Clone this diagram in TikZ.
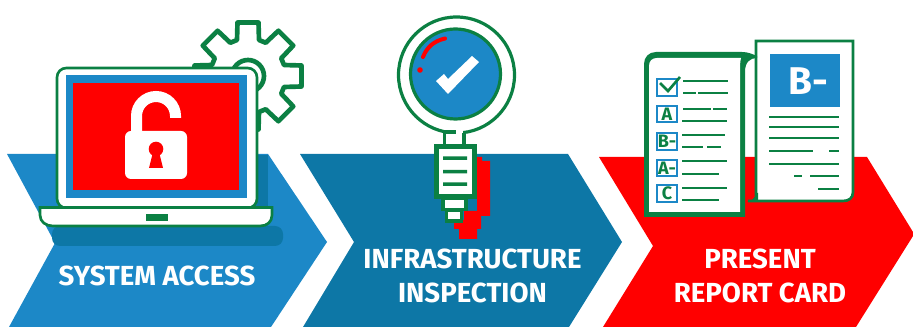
\documentclass[tikz,border=0pt]{standalone}
\usepackage{fontspec}
\setmainfont{Fira Sans}
\definecolor{gr}{HTML}{0B8043}
\definecolor{bl}{HTML}{1C88C7}
\definecolor{dbl}{HTML}{0D77A6}
\definecolor{rd}{HTML}{FF0000}
\tikzset{
 lbl/.style={font=\fontsize{20.7}{25.5}\selectfont\bfseries,text=white,align=center},
 gl/.style={draw=gr,line width=2pt},
 ln/.style={draw=gr,line width=2pt},
 gradebox/.style={draw=bl,line width=1.6pt,fill=white,minimum width=15pt,minimum height=12.5pt,inner sep=0pt},
 gradetxt/.style={font=\fontsize{13.5}{13.5}\selectfont\bfseries,text=gr,inner sep=0pt},
}
\begin{document}
\begin{tikzpicture}[x=0.75pt,y=-0.75pt]
\useasboundingbox (0,0) rectangle (913,327);
% chevrons
\fill[bl] (7,154) -- (268,154) -- (327,242) -- (271,327) -- (9,327) -- (55,243) -- cycle;
\fill[dbl] (300,154) -- (568,154) -- (622,242) -- (569,327) -- (303,327) -- (354,242) -- cycle;
\fill[rd] (599,157) -- (867,157) -- (913,232) -- (913,236) -- (856,327) -- (603,327) -- (653,246) -- cycle;
% text
\node[lbl] (t1) at (157,276) {SYSTEM ACCESS};
\node[lbl] (t2) at (472.5,275.5) {INFRASTRUCTURE\\INSPECTION};
\node[lbl] (t3) at (760,276) {PRESENT\\REPORT CARD};
% gear
\begin{scope}[shift={(248,76)}]
\draw[gr,line width=3.5pt,fill=white,line join=round]
 (-11,-36)
 \foreach \a in {0,-45,...,-315} {
  -- ([rotate=\a]-11,-36) -- ([rotate=\a]-10.5,-53.5) -- ([rotate=\a]10.5,-53.5) -- ([rotate=\a]11,-36)
 } -- cycle;
\draw[gr,line width=3.5pt,fill=white] (0,0) circle (16);
\end{scope}
% laptop shadow
\fill[dbl] (240,155) rectangle (268,230);
\fill[dbl,rounded corners=6] (52,226) -- (52,246) -- (283,246) -- (283,226) -- cycle;
% laptop
\draw[gl,fill=white,rounded corners=7] (57,208) -- (57,68) -- (257,68) -- (257,208) -- cycle;
\fill[bl] (66,75) rectangle (247,198);
\fill[rd] (73,83) rectangle (239,190);
\draw[gl,fill=white] (40,207.5) -- (272,207.5) -- (272,215) .. controls (272,222) and (267,226) .. (260,226) -- (53,226) .. controls (46,226) and (40,222) .. (40,215) -- cycle;
\fill[gr] (146,214) rectangle (168,221);
% padlock
\draw[white,line width=8.25pt] (136.5,134) -- (136.5,116) arc (180:360:19.5) -- (175.5,118);
\fill[white,rounded corners=4.5] (125,131) rectangle (187,179);
\fill[rd] (156,149) circle (7.3);
\fill[rd] (153,152) -- (159,152) -- (163,168) -- (149,168) -- cycle;
% magnifier
\fill[rd] (477,157) rectangle (482,161) (477,161) rectangle (490,216) (464,211) rectangle (481,229) (454,220) rectangle (481,229) (459,229) rectangle (477,239);
\draw[gl,line width=2.4pt,fill=white] (456.5,75) circle (58);
\draw[gl,line width=2.4pt,fill=bl] (455.5,74) circle (45);
\draw[rd,line width=3pt,line cap=round] (423,57) .. controls (427,47) and (434,41) .. (445,38.5);
\fill[rd] (420,70) circle (2.8);
\fill[white] (436,81) -- (444,74) -- (448,79) -- (472,56) -- (479,62) -- (448,94) -- cycle;
\fill[white] (445,129) rectangle (463,137);
\draw[gl,line width=2.4pt] (444.5,146) -- (444.5,132) -- (456,132);
\draw[gl,line width=2.4pt] (464,146) -- (464,133);
\draw[gr,line width=3.75pt,fill=white] (436.5,146.5) rectangle (474.5,196.5);
\fill[gr] (443,156.5) rectangle (467,160) (443,170) rectangle (467,173.5) (443,182.5) rectangle (467,186);
\draw[gr,line width=2.6pt,fill=white] (443,198) rectangle (466,209.5);
\draw[gr,line width=2.6pt,fill=white] (446.5,210) rectangle (461.5,221);
% report right page
\fill[white] (756,41) -- (853,41) -- (853,192) .. controls (853,198) and (849,201) .. (843,201) -- (756,201) -- cycle;
\draw[gl] (756,196) -- (756,41) -- (853,41) -- (853,192) .. controls (853,198) and (849,201) .. (843,201) -- (748,201);
\fill[gr] (747,202) .. controls (752,201) and (755,198) .. (756,193) -- (758,193) -- (758,202) -- cycle;
\fill[bl] (770,54) rectangle (840,107);
\node[font=\fontsize{29}{29}\selectfont\bfseries,text=white,inner sep=0pt] (bm) at (808,81) {B-};
\draw[ln] (769,117) -- (839,117) (769,127) -- (839,127) (769,138) -- (839,138)
 (769,151) -- (813,151) (829,151) -- (839,151) (769,164) -- (839,164)
 (794,176) -- (802,176) (810,176) -- (839,176) (818,189) -- (839,189);
% report left page
\fill[gr] (644,217) -- (644,64) .. controls (644,57) and (649,52) .. (656,52) -- (742,52) .. controls (748,52) and (752,54) .. (757,56) -- (757,58) .. controls (750,58) and (745,62) .. (745,72) -- (745,217) -- cycle;
\fill[white] (649,212) -- (649,66) .. controls (649,61) and (652,58) .. (657,58) -- (741,58) .. controls (740,62) and (740,66) .. (740,70) -- (740,212) -- cycle;
% check list
\node[gradebox] (b0) at (667,87.5) {};
\draw[gr,line width=2pt] (660,83) -- (668,91) -- (680,77);
\foreach \n/\y/\s in {b1/114/A,b2/141.5/B-,b3/168/A-,b4/193.5/C}{
 \node[gradebox] (\n) at (667,\y) {};
 \node[gradetxt] at (\n.center) {\s};
}
\draw[ln] (683,81) -- (728,81) (683,93) -- (696,93) (698,93) -- (728,93)
 (683,109) -- (711,109) (713,109) -- (727,109) (682,121) -- (727,121)
 (682,135) -- (725,135) (682,147) -- (703,147) (707,147) -- (721,147)
 (682,161) -- (727,161) (682,174) -- (719,174)
 (682,188) -- (727,188) (682,200) -- (719,200);
\end{tikzpicture}
\end{document}
